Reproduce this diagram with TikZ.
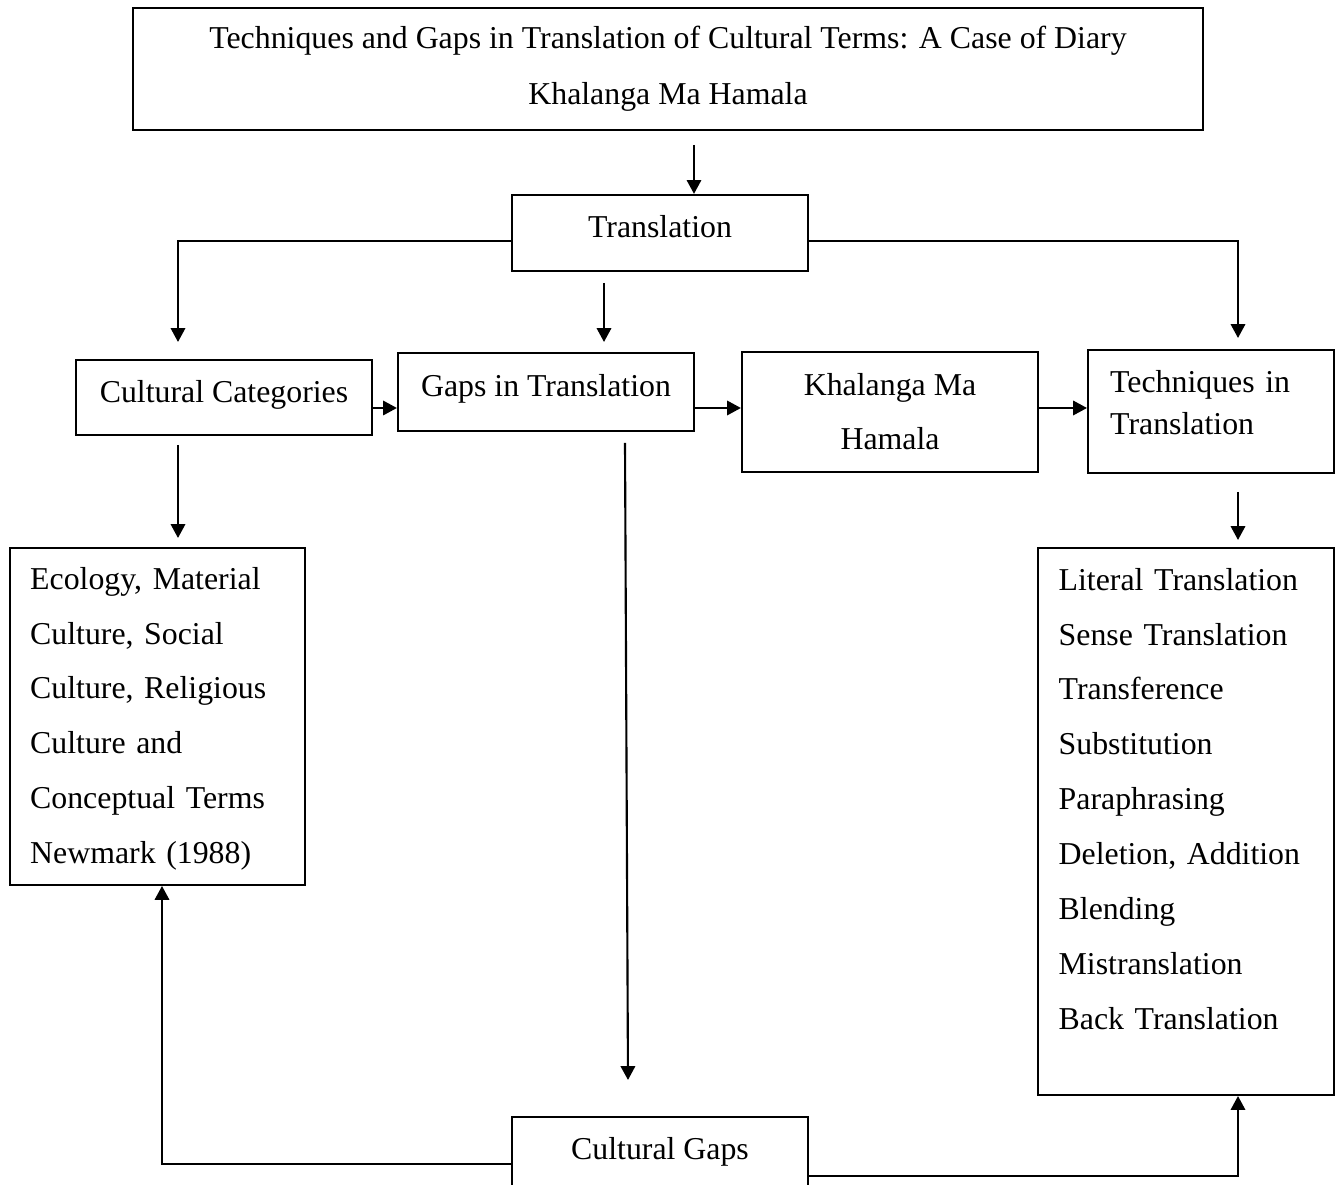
\documentclass[tikz,border=0pt]{standalone}
\usepackage{fontspec}
\setmainfont{Liberation Serif}
\usetikzlibrary{arrows.meta,positioning,calc}

\begin{document}
\begin{tikzpicture}[
    x=0.377pt, y=-0.377pt,
    box/.style={draw, line width=0.8pt, minimum width=111.6pt, minimum height=28.7pt, align=center, font=\fontsize{12}{15.8}\selectfont, inner sep=0pt},
    sbox/.style={box, text height=8.5pt, text depth=5pt},
    listbox/.style={box, align=left, font=\fontsize{12}{20.7}\selectfont},
    arr/.style={-{Triangle[length=5.2pt,width=5.4pt]}, line width=0.8pt}
]
    \useasboundingbox (0,0) rectangle (1336,1185);

    % Title and first level
    \node[box, minimum width=403.4pt, minimum height=46pt, font=\fontsize{12}{21.1}\selectfont] (title) at (668,69) {Techniques and Gaps in Translation of Cultural Terms: A Case of Diary\\Khalanga Ma Hamala};
    \node[sbox] (trans) at (660,233) {Translation};

    % Middle row
    \node[sbox, minimum height=28.3pt] (cat) at (224,397.5) {Cultural Categories};
    \node[sbox, minimum height=29.4pt] (gaps) at (546,392) {Gaps in Translation};
    \node[box, minimum height=45.2pt, font=\fontsize{12}{20.4}\selectfont] (khal) at (890,412) {Khalanga Ma\\Hamala};
    \node[box, align=left, minimum width=92.7pt, minimum height=46.4pt, text width=76pt] (tech) at (1211,411.5) {Techniques in\\Translation\\[-9pt]\mbox{}};

    % Lists
    \node[listbox, minimum width=111.2pt, minimum height=127pt, text width=96pt] (ecol) at (157.5,716.5) {\rule{0pt}{10pt}Ecology, Material\\Culture, Social\\Culture, Religious\\Culture and\\Conceptual Terms\\Newmark (1988)};
    \node[listbox, minimum height=206.2pt, text width=96pt] (lit) at (1186,821.5) {Literal Translation\\Sense Translation\\Transference\\Substitution\\Paraphrasing\\Deletion, Addition\\Blending\\Mistranslation\\Back Translation\\[-3.5pt]\mbox{}};

    % Bottom
    \node[sbox] (cgaps) at (660,1155) {Cultural Gaps};

    % free ends of connectors
    \coordinate (t0) at (694,145);
    \coordinate (catin) at (178,342);
    \coordinate (techin) at (1238,338);
    \coordinate (g0) at (604,283);
    \coordinate (g1) at (604,342);
    \coordinate (row) at (0,408);
    \coordinate (c0) at (178,445);
    \coordinate (c1) at (178,538);
    \coordinate (r0) at (1238,492);
    \coordinate (r1) at (1238,540);
    \coordinate (v0) at (625,443);
    \coordinate (v1) at (628,1080);
    \coordinate (lx) at (162,1164);
    \coordinate (rx) at (1238,1176);

    % Connectors
    \draw[arr] (t0) -- (t0 |- trans.north);
    \draw[arr] ([yshift=-3pt]trans.west) -| (catin);
    \draw[arr] ([yshift=-3pt]trans.east) -| (techin);
    \draw[arr] (g0) -- (g1);
    \draw[arr] (cat.east |- row) -- (gaps.west |- row);
    \draw[arr] (gaps.east |- row) -- (khal.west |- row);
    \draw[arr] (khal.east |- row) -- (tech.west |- row);
    \draw[arr] (c0) -- (c1);
    \draw[arr] (r0) -- (r1);
    \draw[arr] (v0) -- (v1);
    \draw[arr] (cgaps.west |- lx) -| (lx |- ecol.south);
    \draw[arr] (cgaps.east |- rx) -| (rx |- lit.south);
\end{tikzpicture}
\end{document}
